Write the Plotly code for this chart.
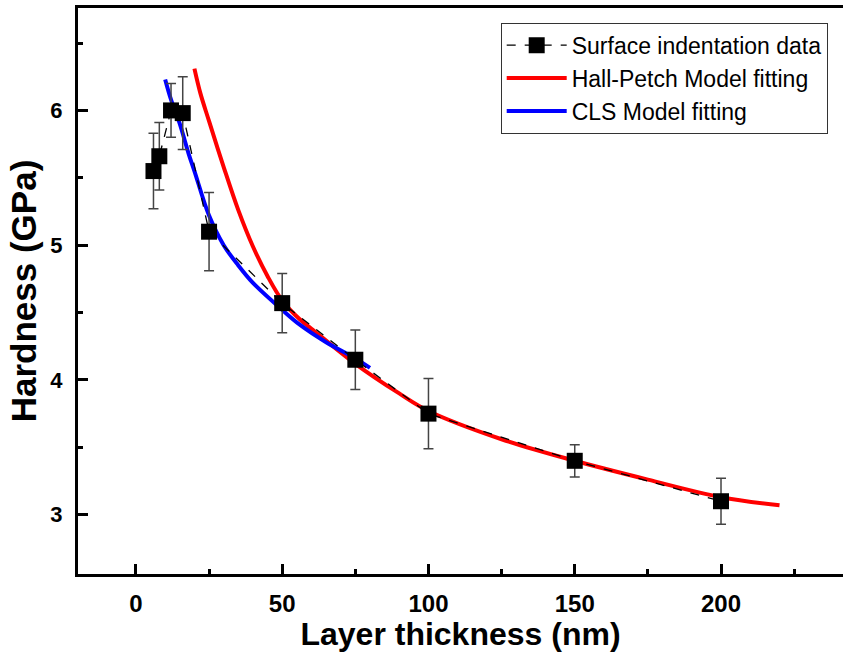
import plotly.graph_objects as go

# Measured data (surface indentation)
thickness = [6, 8, 12, 16, 25, 50, 75, 100, 150, 200]
hardness = [5.55, 5.66, 6.00, 5.98, 5.10, 4.57, 4.15, 3.75, 3.40, 3.10]
hardness_err = [0.28, 0.25, 0.20, 0.27, 0.29, 0.22, 0.22, 0.26, 0.12, 0.17]

# Hall-Petch fitted curve
hp_x = [20, 22, 25, 30, 35, 40, 45, 50, 56, 60, 75, 90, 100, 125, 150, 175, 200, 220]
hp_y = [6.31, 6.13, 5.92, 5.58, 5.26, 4.99, 4.77, 4.59, 4.45, 4.38, 4.12, 3.90, 3.77, 3.56, 3.40, 3.26, 3.13, 3.07]

# CLS fitted curve
cls_x = [10, 12, 15, 18, 20, 25, 30, 35, 40, 50, 56, 65, 75, 80]
cls_y = [6.23, 6.08, 5.90, 5.68, 5.55, 5.22, 5.00, 4.85, 4.72, 4.52, 4.41, 4.28, 4.16, 4.09]

x_ticks = [0, 50, 100, 150, 200]
y_ticks = [3, 4, 5, 6]

FONT = "Liberation Sans, Arial, sans-serif"

fig = go.Figure()
fig.add_trace(go.Scatter(
    x=hp_x, y=hp_y, name="Hall-Petch Model fitting", mode="lines",
    line=dict(color="#ff0000", width=4, shape="spline"), legendrank=2,
))
fig.add_trace(go.Scatter(
    x=cls_x, y=cls_y, name="CLS Model fitting", mode="lines",
    line=dict(color="#0000ff", width=4, shape="spline"), legendrank=3,
))
fig.add_trace(go.Scatter(
    x=thickness, y=hardness, name="Surface indentation data",
    mode="lines+markers", legendrank=1,
    line=dict(color="black", width=1.3, dash="dash"),
    marker=dict(symbol="square", size=16, color="black"),
    error_y=dict(type="data", array=hardness_err, color="#444444", thickness=1.5, width=5),
))

fig.update_layout(
    width=843, height=652,
    margin=dict(l=78, r=0, t=8, b=78),
    plot_bgcolor="white", paper_bgcolor="white",
    font=dict(family=FONT, color="black"),
    showlegend=True,
    legend=dict(
        x=0.98, xanchor="right", y=0.974, yanchor="top",
        bordercolor="#333333", borderwidth=1, bgcolor="white",
        font=dict(size=23, family=FONT, color="black"),
        itemwidth=60, tracegroupgap=0,
    ),
    xaxis=dict(
        range=[-19.8, 241.7],
        tickmode="array", tickvals=x_ticks, ticktext=[str(v) for v in x_ticks],
        showgrid=False, zeroline=False,
        showline=True, linecolor="black", linewidth=3, mirror=True,
        ticks="inside", ticklen=10, tickwidth=3, tickcolor="black",
        minor=dict(ticks="inside", ticklen=5, tickwidth=3, tickcolor="black", tick0=25, dtick=50),
        tickfont=dict(size=24, family=FONT, weight="bold"),
        ticklabelstandoff=6,
        title=dict(text="Layer thickness (nm)", font=dict(size=32, family=FONT, weight="bold"), standoff=4),
    ),
    yaxis=dict(
        range=[2.56, 6.76],
        tickmode="array", tickvals=y_ticks, ticktext=[str(v) for v in y_ticks],
        showgrid=False, zeroline=False,
        showline=True, linecolor="black", linewidth=3, mirror=False,
        ticks="inside", ticklen=10, tickwidth=3, tickcolor="black",
        minor=dict(ticks="inside", ticklen=5, tickwidth=3, tickcolor="black", tick0=2.5, dtick=1),
        tickfont=dict(size=22, family=FONT, weight="bold"),
        ticklabelstandoff=8,
        title=dict(text="Hardness (GPa)", font=dict(size=35, family=FONT, weight="bold"), standoff=4),
    ),
)

fig.write_html("out.html")
